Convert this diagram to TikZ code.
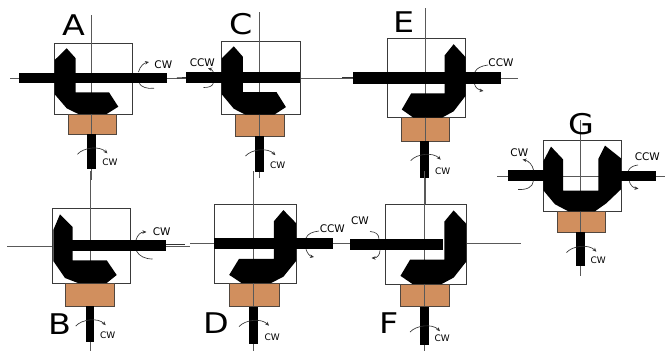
\documentclass[tikz,border=0pt]{standalone}
\usepackage{fontspec}
\setmainfont{DejaVu Sans}
\usetikzlibrary{arrows.meta}
\definecolor{blockbrown}{HTML}{D18F5E}
\definecolor{edgegrey}{HTML}{3A3A3A}
\tikzset{
  frame/.style={draw=edgegrey,line width=1pt,fill=white},
  block/.style={draw=edgegrey!85!blockbrown,line width=0.8pt,fill=blockbrown},
  part/.style={fill=black,draw=none},
  axis/.style={draw=black!65,line width=0.8pt},
  stub/.style={draw=black!80,line width=1.1pt},
  curlhead/.style={draw=black!80,line width=0.65pt,-{Stealth[length=4pt,width=3.5pt]}},
  curl/.style={draw=black!80,line width=0.65pt},
  big/.style={inner sep=0pt,xscale=1.17,font=\fontsize{28.5}{28.5}\selectfont},
  mid/.style={inner sep=0pt,font=\fontsize{10.5}{10.5}\selectfont},
  small/.style={inner sep=0pt,font=\fontsize{9}{9}\selectfont},
}
% gear outline, origin at lower outer corner of the box
\newcommand{\gearoutline}{(12,-65.7) -- (21,-55.7) -- (21,-21.7) -- (54.3,-21.7) -- (63.6,-7.3) -- (52,0) -- (23.6,0) -- (12,-5.7) -- (0,-19.7) -- (0,-54) -- cycle}
% arc round the lower shaft, centre x and top y
\newcommand{\shaftcurl}[2]{\draw[curlhead] (#1-14.3,#2+7.6) .. controls (#1-8,#2+0.5) and (#1+8,#2-1) .. (#1+15.7,#2+6.7);}
\begin{document}
\begin{tikzpicture}[x=1pt,y=-1pt]
\useasboundingbox (0,0) rectangle (665,351);
% thin shaft lines
\draw[axis] (10,78) -- (186,78);
\draw[axis] (170,78) -- (352,78);
\draw[axis] (341,78) -- (518,78);
\draw[axis] (7,246) -- (190,246);
\draw[axis] (190,243.7) -- (350,243.7);
\draw[axis] (340,243.7) -- (520.5,243.7);
\draw[stub] (177,78) -- (187,77.6);
\draw[stub] (342,77.6) -- (353,77.6);
\draw[stub] (166,244.5) -- (185,244.5);
% panel A
\node[frame,minimum width=77.6pt,minimum height=71pt,inner sep=0pt] (boxA) at (93.5,78.5) {};
\node[block,minimum width=48.4pt,minimum height=20.3pt,inner sep=0pt] (brownA) at (92.5,124.2) {};
\draw[axis] (91.7,15) -- (91.7,180);
\begin{scope}[shift={(54.7,114)}] \fill[part] \gearoutline; \end{scope}
\node[part,minimum width=147.7pt,minimum height=10.6pt,inner sep=0pt] (barA) at (93.2,78) {};
\node[part,minimum width=9pt,minimum height=34.7pt,inner sep=0pt] (shaftA) at (91.5,151.4) {};
\node[big] (labelA) at (74,25) {A};
\node[mid] (cwA) at (163.3,65) {CW};
\node[small] (cwAs) at (110,162.3) {CW};
\draw[curlhead] (138.5,72) .. controls (140,66) and (144,63) .. (149,62);
\draw[curl] (139.3,83.3) .. controls (141,87) and (147,89) .. (154,88.3);
\shaftcurl{91.7}{146.7}
% panel C
\node[frame,minimum width=78.6pt,minimum height=73.7pt,inner sep=0pt] (boxC) at (261,77.85) {};
\node[block,minimum width=48.3pt,minimum height=21.6pt,inner sep=0pt] (brownC) at (259.85,125.5) {};
\draw[axis] (259.7,12) -- (259.7,178);
\begin{scope}[shift={(221.7,114.7)},xscale=1.01,yscale=1.04] \fill[part] \gearoutline; \end{scope}
\node[part,minimum width=113.7pt,minimum height=11pt,inner sep=0pt] (barC) at (243.15,77.8) {};
\node[part,minimum width=9pt,minimum height=35.4pt,inner sep=0pt] (shaftC) at (259.2,154) {};
\node[big] (labelC) at (240.7,24) {C};
\node[mid] (ccwC) at (202.3,62.3) {CCW};
\node[small] (cwCs) at (277.7,165.7) {CW};
\draw[curlhead] (213.3,72) .. controls (212.8,70.5) and (211.5,69.3) .. (208,68.3);
\draw[curl] (213.3,83.3) .. controls (212,86.5) and (209,87.5) .. (203.5,87.5);
\shaftcurl{259.7}{148.5}
% panel E
\node[frame,minimum width=78pt,minimum height=79.4pt,inner sep=0pt] (boxE) at (426.7,78) {};
\node[block,minimum width=48.4pt,minimum height=23.6pt,inner sep=0pt] (brownE) at (425.5,129.5) {};
\draw[axis] (425,8) -- (425,205);
\begin{scope}[shift={(465.7,117.7)},xscale=-1.005,yscale=1.118] \fill[part] \gearoutline; \end{scope}
\node[part,minimum width=148.3pt,minimum height=12.3pt,inner sep=0pt] (barE) at (426.85,77.85) {};
\node[part,minimum width=9pt,minimum height=37pt,inner sep=0pt] (shaftE) at (424.8,159.8) {};
\node[big] (labelE) at (404.3,21.7) {E};
\node[mid] (ccwE) at (501,62.7) {CCW};
\node[small] (cwEs) at (442.7,171.7) {CW};
\draw[curl] (475,71.7) .. controls (477,68) and (481,66) .. (488,65);
\draw[curlhead] (474.5,84) .. controls (475.5,87.5) and (478,90) .. (483.5,91);
\shaftcurl{425}{153}
% panel B
\draw[axis] (90,171) -- (90,351);
\node[frame,minimum width=78pt,minimum height=75pt,inner sep=0pt] (boxB) at (91.3,245.5) {};
\draw[axis] (90,171) -- (90,351);
\node[block,minimum width=49pt,minimum height=23pt,inner sep=0pt] (brownB) at (90.2,294.5) {};
\fill[part] (60,214.3) -- (72.7,227) -- (72.7,260.3) -- (106.7,260.3) -- (116.7,275) -- (106.7,283) -- (78,283) -- (65,278) -- (53.3,261) -- (53.3,230) -- cycle;
\node[part,minimum width=93.7pt,minimum height=11pt,inner sep=0pt] (barB) at (118.85,245.8) {};
\node[part,minimum width=8.3pt,minimum height=35.7pt,inner sep=0pt] (shaftB) at (89.85,323.85) {};
\node[big] (labelB) at (60,324.3) {B};
\node[mid] (cwB) at (161.7,231.7) {CW};
\node[small] (cwBs) at (107.7,335) {CW};
\draw[curlhead] (136,240) .. controls (137.5,234.5) and (141,232) .. (146.5,232);
\draw[curl] (136.5,251) .. controls (139,256) and (145,259) .. (152.5,259);
\shaftcurl{90}{318.5}
% panel D
\draw[axis] (253.3,171) -- (253.3,351);
\node[frame,minimum width=81.7pt,minimum height=79pt,inner sep=0pt] (boxD) at (255.15,243.5) {};
\node[block,minimum width=50.3pt,minimum height=23.7pt,inner sep=0pt] (brownD) at (254.15,294.85) {};
\draw[axis] (253.3,171) -- (253.3,306);
\begin{scope}[shift={(296,283)},xscale=-1.05,yscale=1.11] \fill[part] \gearoutline; \end{scope}
\node[part,minimum width=118.4pt,minimum height=11.3pt,inner sep=0pt] (barD) at (273.5,243.65) {};
\node[part,minimum width=9pt,minimum height=37.6pt,inner sep=0pt] (shaftD) at (253.2,325.5) {};
\node[big] (labelD) at (216.7,323.3) {D};
\node[mid] (ccwD) at (332.3,228.3) {CCW};
\node[small] (cwDs) at (272.3,337.7) {CW};
\draw[curl] (306,238) .. controls (308,233.5) and (312,232) .. (319,231);
\draw[curlhead] (306,249.3) .. controls (307,252) and (309,256) .. (314,257);
\shaftcurl{253.3}{319}
% panel F
\draw[axis] (424.3,171) -- (424.3,351);
\node[frame,minimum width=80.3pt,minimum height=79.7pt,inner sep=0pt] (boxF) at (425.85,244.15) {};
\node[block,minimum width=49.7pt,minimum height=22.7pt,inner sep=0pt] (brownF) at (424.85,295.35) {};
\draw[axis] (424.3,171) -- (424.3,306);
\begin{scope}[shift={(466,284)},xscale=-1.03,yscale=1.12] \fill[part] \gearoutline; \end{scope}
\node[part,minimum width=93pt,minimum height=11.6pt,inner sep=0pt] (barF) at (396.5,244.5) {};
\node[part,minimum width=9pt,minimum height=38.3pt,inner sep=0pt] (shaftF) at (424.2,325.85) {};
\node[big] (labelF) at (389,323.3) {F};
\node[mid] (cwF) at (360,220.3) {CW};
\node[small] (cwFs) at (442.3,338.3) {CW};
\draw[curl] (379,238.7) .. controls (378.5,234) and (376,232) .. (370,231.5);
\draw[curlhead] (380,250.3) .. controls (380,255) and (377,258) .. (371.5,258);
\shaftcurl{424.3}{324.5}
% panel G
\draw[axis] (497,176.3) -- (665,176.3);
\draw[axis] (580.7,120) -- (580.7,276);
\node[frame,minimum width=77.7pt,minimum height=71pt,inner sep=0pt] (boxG) at (582.15,175.8) {};
\node[block,minimum width=48pt,minimum height=21pt,inner sep=0pt] (brownG) at (581.3,221.8) {};
\draw[axis] (497,176.3) -- (665,176.3);
\draw[axis] (580.7,120) -- (580.7,232);
\fill[part] (551,146.6) -- (563,159.3) -- (563,190.6) -- (598.3,190.6) -- (598.3,159) -- (605,145.6) -- (621,158.3) -- (621,189.3) -- (606.3,203.3) -- (595,211.3) -- (568.3,211.3) -- (555,204.3) -- (543.3,190.3) -- (543.3,161.3) -- cycle;
\node[part,minimum width=36pt,minimum height=10.7pt,inner sep=0pt] (barGl) at (525.7,175.35) {};
\node[part,minimum width=35pt,minimum height=10.6pt,inner sep=0pt] (barGr) at (638.2,176) {};
\node[part,minimum width=8.7pt,minimum height=34pt,inner sep=0pt] (shaftG) at (580.65,249.3) {};
\node[big] (labelG) at (581,124) {G};
\node[mid] (cwG) at (519.3,152.3) {CW};
\node[mid] (ccwG) at (647.3,156.7) {CCW};
\node[small] (cwGs) at (598.3,260.7) {CW};
\draw[curlhead] (533.5,170) .. controls (532.5,165) and (529,161) .. (522.5,159.5);
\draw[curl] (533.5,180.7) .. controls (533,187) and (527,190) .. (518,189.5);
\draw[curl] (628.3,170.7) .. controls (630,167) and (634,165.5) .. (638,165);
\draw[curlhead] (629.3,181.3) .. controls (630,184.5) and (633,188) .. (638.5,188.5);
\shaftcurl{580.7}{245}
\end{tikzpicture}
\end{document}
